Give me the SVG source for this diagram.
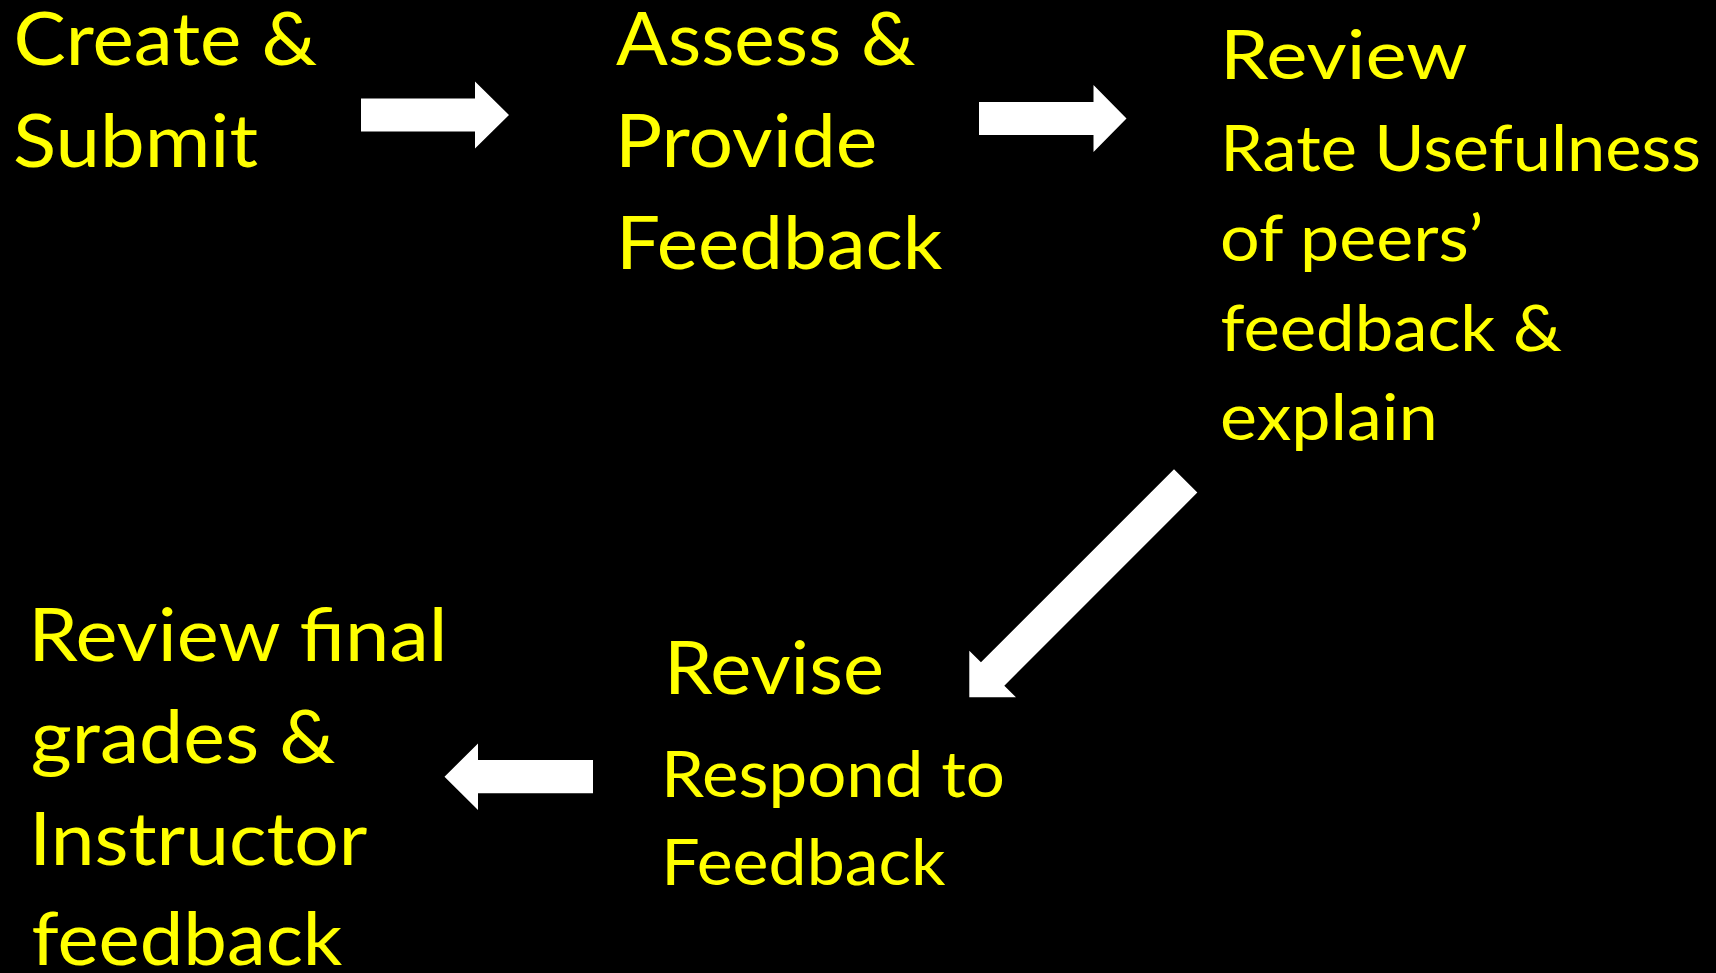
<svg xmlns="http://www.w3.org/2000/svg" width="1716" height="973" viewBox="0 0 1716 973">
  <style>
    .label { font-family: Lato, "Open Sans", "Liberation Sans", sans-serif; fill: #FFFF00; }
    .big { font-size: 74px; }
    .mid { font-size: 68px; }
    .small { font-size: 64px; }
    .arrow { fill: #FFFFFF; }
  </style>
  <rect width="1716" height="973" fill="#000000"/>

  <!-- block arrows between the steps -->
  <g id="connectors">
    <polygon class="arrow" points="361,98.5 475,98.5 475,81.5 509,115 475,148.5 475,131.5 361,131.5"/>
    <polygon class="arrow" points="979,102 1093.5,102 1093.5,85 1126.5,118.5 1093.5,152 1093.5,135 979,135"/>
    <polygon class="arrow" transform="translate(969.3 697.3) rotate(135)" points="-306,-16.5 -33,-16.5 -33,-33 0,0 -33,33 -33,16.5 -306,16.5"/>
    <polygon class="arrow" points="593,760 478,760 478,743.5 444.5,776.7 478,810 478,793.3 593,793.3"/>
  </g>

  <g id="step-create">
    <text class="label big" x="13.6" y="65" textLength="303.6" lengthAdjust="spacingAndGlyphs">Create &amp;</text>
    <text class="label big" x="13" y="166.7" textLength="245" lengthAdjust="spacingAndGlyphs">Submit</text>
  </g>

  <g id="step-assess">
    <text class="label big" x="616" y="65" textLength="299.5" lengthAdjust="spacingAndGlyphs">Assess &amp;</text>
    <text class="label big" x="615" y="166.7" textLength="262.3" lengthAdjust="spacingAndGlyphs">Provide</text>
    <text class="label big" x="616" y="269.3" textLength="326.4" lengthAdjust="spacingAndGlyphs">Feedback</text>
  </g>

  <g id="step-review">
    <text class="label mid" x="1220" y="78.5" textLength="247.5" lengthAdjust="spacingAndGlyphs">Review</text>
    <text class="label small" x="1220.2" y="171" textLength="480.7" lengthAdjust="spacingAndGlyphs">Rate Usefulness</text>
    <text class="label small" x="1220" y="260.5" textLength="263.4" lengthAdjust="spacingAndGlyphs">of peers’</text>
    <text class="label small" x="1220.4" y="350.7" textLength="341.6" lengthAdjust="spacingAndGlyphs">feedback &amp;</text>
    <text class="label small" x="1220" y="440" textLength="217.7" lengthAdjust="spacingAndGlyphs">explain</text>
  </g>

  <g id="step-revise">
    <text class="label big" x="664" y="694" textLength="220" lengthAdjust="spacingAndGlyphs">Revise</text>
    <text class="label small" x="661" y="796.7" textLength="344" lengthAdjust="spacingAndGlyphs">Respond to</text>
    <text class="label small" x="661.2" y="885" textLength="284.4" lengthAdjust="spacingAndGlyphs">Feedback</text>
  </g>

  <g id="step-final">
    <text class="label big" x="28.3" y="660.7" textLength="419.3" lengthAdjust="spacingAndGlyphs">Review final</text>
    <text class="label big" x="30.8" y="763.3" textLength="304.7" lengthAdjust="spacingAndGlyphs">grades &amp;</text>
    <text class="label big" x="29.3" y="865" textLength="338.1" lengthAdjust="spacingAndGlyphs">Instructor</text>
    <text class="label big" x="31.5" y="965" textLength="310.9" lengthAdjust="spacingAndGlyphs">feedback</text>
  </g>
</svg>
